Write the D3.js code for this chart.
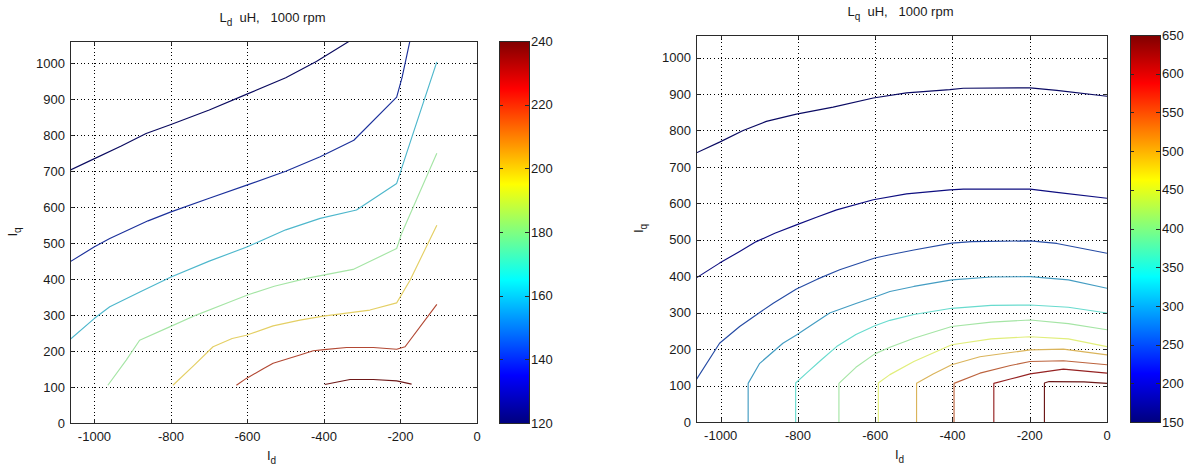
<!DOCTYPE html>
<html>
<head>
<meta charset="utf-8">
<script src="https://cdnjs.cloudflare.com/ajax/libs/d3/7.8.5/d3.min.js"></script>
<style>
  html, body { margin: 0; padding: 0; background: #fff; }
  svg { display: block; }
  text { font-family: "Liberation Sans", Arial, Helvetica, sans-serif; fill: #1a1a1a; white-space: pre; }
</style>
</head>
<body>
<svg id="chart" width="1192" height="470"></svg>
<script>
// ---- Tick values ----
const xTicks = [-1000, -800, -600, -400, -200, 0];
const yTicks = [0, 100, 200, 300, 400, 500, 600, 700, 800, 900, 1000];
const ldBarTicks = [120, 140, 160, 180, 200, 220, 240];
const lqBarTicks = [150, 200, 250, 300, 350, 400, 450, 500, 550, 600, 650];

// ---- Ld contours (uH), points are [Id, Iq] ----
const ldLevels = [125, 140, 160, 180, 200, 220, 235];
const ld125 = [[-1064,703],[-1000,735],[-930,770],[-865,805],[-800,830],[-700,870],[-600,915],[-500,960],[-420,1005],[-330,1064]];
const ld140 = [[-1064,448],[-1000,490],[-960,513],[-860,562],[-800,587],[-700,625],[-600,662],[-500,700],[-410,740],[-322,786],[-210,906],[-196,960],[-175,1064]];
const ld160 = [[-1064,232],[-1000,291],[-960,323],[-880,365],[-800,406],[-700,450],[-600,490],[-500,537],[-410,569],[-315,592],[-210,666],[-167,805],[-105,1004]];
const ld180 = [[-965,105],[-917,175],[-882,230],[-802,268],[-734,300],[-650,335],[-600,356],[-530,380],[-446,402],[-324,427],[-210,485],[-197,527],[-105,750]];
const ld200 = [[-795,105],[-740,160],[-690,212],[-640,235],[-603,244],[-533,270],[-463,286],[-402,297],[-280,314],[-210,334],[-175,397],[-105,550]];
const ld220 = [[-629,105],[-603,124],[-560,150],[-533,166],[-463,189],[-428,201],[-400,204],[-341,210],[-271,210],[-210,205],[-188,212],[-105,330]];
const ld235 = [[-398,107],[-332,121],[-271,121],[-210,117],[-171,108]];

// ---- Lq contours (uH), points are [Id, Iq] ----
const lqLevels = [175, 200, 250, 300, 350, 400, 450, 500, 550, 600, 630];
const lq175 = [[-1064,738],[-1003,768],[-942,800],[-882,825],[-804,845],[-709,864],[-605,889],[-519,903],[-407,912],[-372,916],[-199,917],[-130,910],[0,894]];
const lq200 = [[-1064,395],[-1003,436],[-951,468],[-908,495],[-860,518],[-804,541],[-752,562],[-700,582],[-605,610],[-519,626],[-407,637],[-372,639],[-199,639],[-130,630],[0,614]];
const lq250 = [[-1064,115],[-1003,216],[-951,262],[-900,300],[-864,326],[-804,365],[-750,392],[-692,418],[-601,450],[-562,459],[-500,472],[-402,491],[-350,495],[-199,497],[-130,490],[0,463]];
const lq300 = [[-929,0],[-929,106],[-899,161],[-839,216],[-804,239],[-718,299],[-650,325],[-601,343],[-562,358],[-500,372],[-402,390],[-300,398],[-199,399],[-100,390],[0,367]];
const lq350 = [[-806,0],[-806,107],[-778,134],[-740,170],[-700,207],[-650,240],[-601,264],[-562,279],[-500,295],[-402,312],[-300,320],[-199,321],[-100,315],[0,299]];
const lq400 = [[-694,0],[-694,106],[-650,150],[-601,187],[-562,205],[-500,230],[-402,262],[-300,274],[-199,280],[-100,270],[0,253]];
const lq450 = [[-592,0],[-592,107],[-562,130],[-500,166],[-402,212],[-300,228],[-199,234],[-100,228],[0,207]];
const lq500 = [[-493,0],[-493,106],[-450,132],[-402,157],[-329,179],[-199,198],[-113,200],[0,184]];
const lq550 = [[-396,0],[-396,106],[-329,134],[-250,155],[-199,166],[-113,168],[0,157]];
const lq600 = [[-293,0],[-293,106],[-250,118],[-199,132],[-113,145],[0,134]];
const lq630 = [[-162,0],[-162,107],[-150,111],[-60,110],[0,106]];

const ldCurves = [ld125, ld140, ld160, ld180, ld200, ld220, ld235];
const lqCurves = [lq175, lq200, lq250, lq300, lq350, lq400, lq450, lq500, lq550, lq600, lq630];

// MATLAB-style jet colormap
function jet(t) {
  const c = v => Math.max(0, Math.min(1, v));
  const r = c(1.5 - Math.abs(4 * t - 3));
  const g = c(1.5 - Math.abs(4 * t - 2));
  const b = c(1.5 - Math.abs(4 * t - 1));
  return d3.rgb(r * 255, g * 255, b * 255);
}
// thin contour strokes read softer than the bar fill: pull toward grey of equal luminance
function lineColor(t) {
  const c = jet(t);
  const lum = 0.299 * c.r + 0.587 * c.g + 0.114 * c.b;
  const k = 0.5;
  return d3.rgb(lum + k * (c.r - lum), lum + k * (c.g - lum), lum + k * (c.b - lum)).formatHex();
}

const svg = d3.select("#chart");
svg.append("rect").attr("width", 1192).attr("height", 470).attr("fill", "#fff");

const defs = svg.append("defs");
const grad = defs.append("linearGradient").attr("id", "jetGrad")
  .attr("x1", 0).attr("y1", 1).attr("x2", 0).attr("y2", 0);
d3.range(0, 65).forEach(i => {
  const t = i / 64;
  grad.append("stop").attr("offset", t).attr("stop-color", jet(t).formatHex());
});

function panel(cfg) {
  const { left, right, top, bottom, levels, curves, lo, hi, barX, barTicks, titleSub, id } = cfg;
  const x = d3.scaleLinear().domain([-1064, 0]).range([left, right]);
  const y = d3.scaleLinear().domain([0, 1062]).range([bottom, top]);
  const g = svg.append("g");

  defs.append("clipPath").attr("id", "clip" + id)
    .append("rect").attr("x", left).attr("y", top)
    .attr("width", right - left).attr("height", bottom - top);

  // dotted grid
  const grid = g.append("g").attr("stroke", "#000").attr("stroke-width", 1)
    .attr("stroke-dasharray", "1,2.6").attr("shape-rendering", "crispEdges");
  grid.selectAll("line.vx").data(xTicks.filter(v => v > -1064 && v < 0)).join("line")
    .attr("x1", d => Math.round(x(d)) + 0.5).attr("x2", d => Math.round(x(d)) + 0.5)
    .attr("y1", top).attr("y2", bottom);
  grid.selectAll("line.hy").data(yTicks.filter(v => v > 0)).join("line")
    .attr("y1", d => Math.round(y(d)) + 0.5).attr("y2", d => Math.round(y(d)) + 0.5)
    .attr("x1", left).attr("x2", right);

  // contour lines
  const line = d3.line().x(d => x(d[0])).y(d => y(d[1]));
  g.append("g").attr("clip-path", `url(#clip${id})`)
    .selectAll("path").data(curves).join("path")
    .attr("d", line).attr("fill", "none")
    .attr("stroke", (d, i) => lineColor((levels[i] - lo) / (hi - lo)))
    .attr("stroke-width", 1.15).attr("stroke-linejoin", "round");

  // axes box
  g.append("rect").attr("x", left + 0.5).attr("y", top + 0.5)
    .attr("width", right - left).attr("height", bottom - top)
    .attr("fill", "none").attr("stroke", "#2a2a2a").attr("stroke-width", 1);

  const ticks = g.append("g").attr("stroke", "#2a2a2a").attr("stroke-width", 1).attr("shape-rendering", "crispEdges");
  xTicks.forEach(v => {
    const px = Math.round(x(v)) + 0.5;
    ticks.append("line").attr("x1", px).attr("x2", px).attr("y1", bottom).attr("y2", bottom - 4);
    ticks.append("line").attr("x1", px).attr("x2", px).attr("y1", top).attr("y2", top + 4);
  });
  yTicks.forEach(v => {
    const py = Math.round(y(v)) + 0.5;
    ticks.append("line").attr("y1", py).attr("y2", py).attr("x1", left).attr("x2", left + 4);
    ticks.append("line").attr("y1", py).attr("y2", py).attr("x1", right).attr("x2", right - 4);
  });

  // tick labels
  g.selectAll("text.xl").data(xTicks).join("text")
    .attr("x", d => x(d)).attr("y", bottom + 17.5)
    .attr("text-anchor", "middle").attr("font-size", 13).text(d => d);
  g.selectAll("text.yl").data(yTicks).join("text")
    .attr("x", left - 5).attr("y", d => y(d)).attr("dy", "0.36em")
    .attr("text-anchor", "end").attr("font-size", 13).text(d => d);

  // axis labels
  const xl = g.append("text").attr("x", (left + right) / 2 - 2).attr("y", bottom + 37)
    .attr("text-anchor", "middle").attr("font-size", 13);
  xl.append("tspan").text("I");
  xl.append("tspan").attr("dy", 4).attr("font-size", 10).text("d");

  const cy = (top + bottom) / 2;
  const yl = g.append("text").attr("transform", `translate(${left - 53},${cy}) rotate(-90)`)
    .attr("text-anchor", "middle").attr("font-size", 13);
  yl.append("tspan").text("I");
  yl.append("tspan").attr("dy", 4).attr("font-size", 10).text("q");

  // title
  const tt = g.append("text").attr("x", (left + right) / 2 - 1).attr("y", top - 19)
    .attr("text-anchor", "middle").attr("font-size", 13);
  tt.append("tspan").text("L");
  tt.append("tspan").attr("dy", 4).attr("font-size", 10).text(titleSub);
  tt.append("tspan").attr("dy", -4).text("  uH,   1000 rpm");

  // colorbar
  const cb = d3.scaleLinear().domain([lo, hi]).range([bottom, top]);
  const bw = 30;
  g.append("rect").attr("x", barX).attr("y", top).attr("width", bw).attr("height", bottom - top)
    .attr("fill", "url(#jetGrad)");
  g.append("rect").attr("x", barX + 0.5).attr("y", top + 0.5).attr("width", bw).attr("height", bottom - top)
    .attr("fill", "none").attr("stroke", "#2a2a2a").attr("stroke-width", 1);
  const cbt = g.append("g").attr("stroke", "#2a2a2a").attr("stroke-width", 1).attr("shape-rendering", "crispEdges");
  barTicks.forEach(v => {
    const py = Math.round(cb(v)) + 0.5;
    cbt.append("line").attr("x1", barX + bw).attr("x2", barX + bw - 4).attr("y1", py).attr("y2", py);
    cbt.append("line").attr("x1", barX).attr("x2", barX + 4).attr("y1", py).attr("y2", py);
  });
  g.selectAll("text.cl").data(barTicks).join("text")
    .attr("x", barX + bw + 2).attr("y", d => cb(d)).attr("dy", "0.36em")
    .attr("font-size", 13).text(d => d);
}

panel({ id: "ld", left: 70, right: 477, top: 41, bottom: 423, levels: ldLevels, curves: ldCurves,
  lo: 120, hi: 240, barX: 499, barTicks: ldBarTicks, titleSub: "d" });
panel({ id: "lq", left: 696, right: 1107, top: 35, bottom: 422, levels: lqLevels, curves: lqCurves,
  lo: 150, hi: 650, barX: 1130, barTicks: lqBarTicks, titleSub: "q" });
</script>
</body>
</html>
